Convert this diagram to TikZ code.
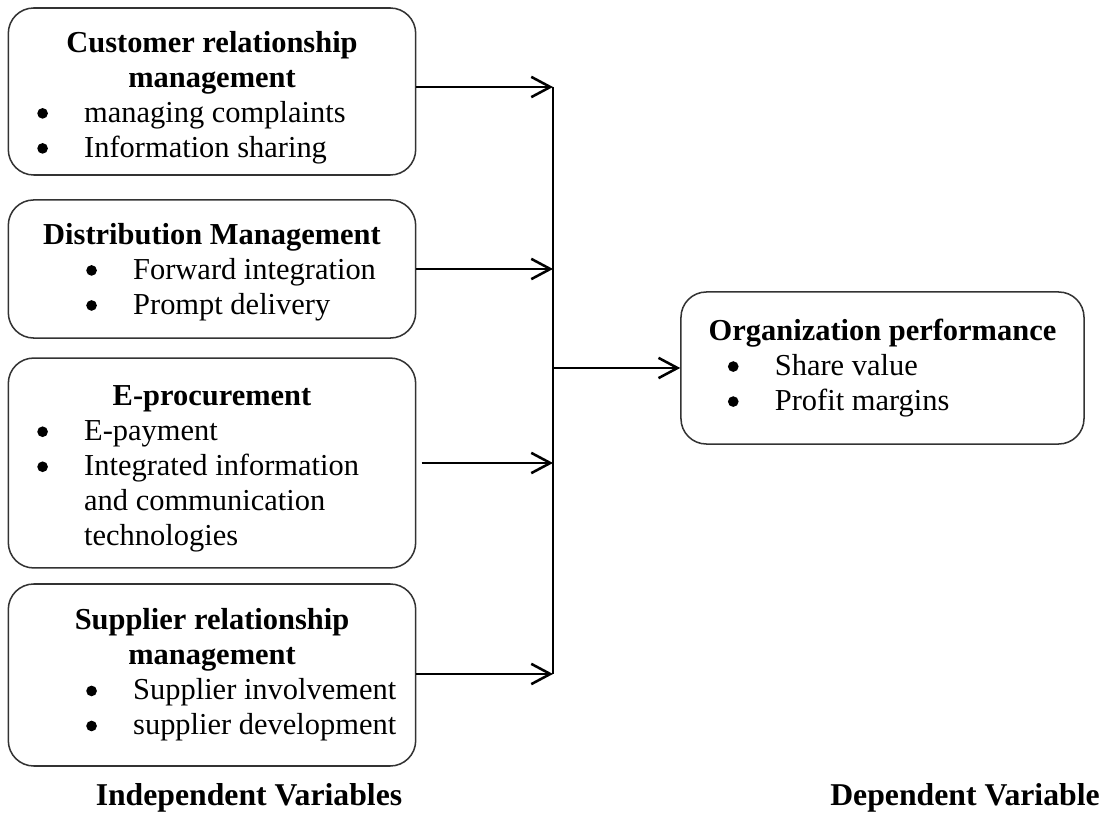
\documentclass[tikz,border=0pt]{standalone}
\usepackage{fontspec}
\setmainfont{Liberation Serif}
\usetikzlibrary{shapes, arrows.meta, positioning}
\tikzstyle{caja} = [draw=black!80, line width=0.6pt, rectangle, rounded corners=10pt, inner sep=0pt, minimum width=160.5pt]
\tikzstyle{flecha} = [line width=1pt, -{Straight Barb[length=7.5pt,width=8pt]}]
\tikzstyle{tronco} = [line width=0.6pt]
\tikzstyle{rotulo} = [font=\fontsize{12.5}{15}\selectfont\bfseries]
\newcommand{\punto}{\tikz[baseline=-3.5pt]\fill (0,0) circle [radius=2.1pt];}
\newcommand{\vineta}[2]{\hspace*{#1}\makebox[18.5pt][l]{\punto}#2\par}
\begin{document}
\begin{tikzpicture}[x=0.394pt, y=-0.394pt, font=\fontsize{12}{13.8}\selectfont]
	\useasboundingbox (0,0) rectangle (1107,816);
	\node [caja, minimum height=65.8pt] (crm) at (212,91.5) {%
		\begin{minipage}{160.5pt}
			\vspace*{4.7pt}
			\centering\textbf{Customer relationship\\ management}\par
			\raggedright
			\vineta{11.4pt}{managing complaints}
			\vineta{11.4pt}{Information sharing}
		\end{minipage}};
	\node [caja, minimum height=54.4pt] (dm) at (212,269) {%
		\begin{minipage}{160.5pt}
			\vspace*{2.4pt}
			\centering\textbf{Distribution Management}\par
			\raggedright
			\vineta{30.7pt}{Forward integration}
			\vineta{30.7pt}{Prompt delivery}
		\end{minipage}};
	\node [caja, minimum height=82.7pt] (ep) at (212,463) {%
		\begin{minipage}{160.5pt}
			\vspace*{4.7pt}
			\centering\textbf{E-procurement}\par
			\raggedright
			\vineta{11.4pt}{E-payment}
			\vineta{11.4pt}{Integrated information}
			\hspace*{29.9pt}and communication\par
			\hspace*{29.9pt}technologies\par
		\end{minipage}};
	\node [caja, minimum height=71.7pt] (srm) at (212,675) {%
		\begin{minipage}{160.5pt}
			\centering\textbf{Supplier relationship\\ management}\par
			\raggedright
			\vineta{30.7pt}{Supplier involvement}
			\vineta{30.7pt}{supplier development}
		\end{minipage}};
	\node [caja, minimum width=158.8pt, minimum height=59.9pt] (op) at (882.5,368) {%
		\begin{minipage}{158.8pt}
			\centering\textbf{Organization performance}\par
			\raggedright
			\vineta{18.5pt}{Share value}
			\vineta{18.5pt}{Profit margins}
		\end{minipage}};
	\node [rotulo] (indep) at (249,798) {Independent Variables};
	\node [rotulo] (dep) at (965,798) {Dependent Variable};
	% tronco comun
	\coordinate (arriba) at (553,87);
	\coordinate (abajo) at (553,674);
	\draw [tronco] (arriba) -- (abajo);
	\draw [flecha] (crm.east |- arriba) -- (arriba);
	\draw [flecha] (dm.east) -- (dm.east -| arriba);
	\draw [flecha] ([xshift=2pt]ep.east) -- (ep.east -| arriba);
	\draw [flecha] (srm.east |- abajo) -- (abajo);
	\draw [flecha] (op.west -| arriba) -- (op.west);
\end{tikzpicture}
\end{document}
